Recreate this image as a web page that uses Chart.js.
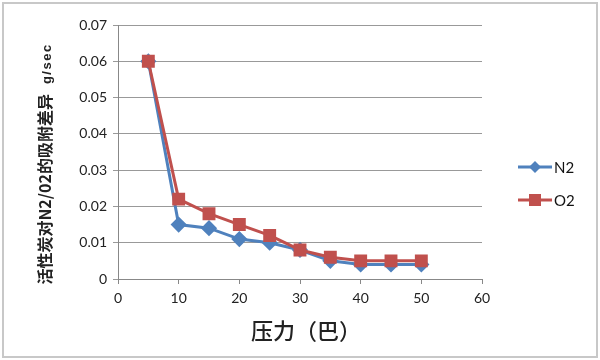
<!DOCTYPE html>
<html>
<head>
<meta charset="utf-8">
<script src="https://cdn.jsdelivr.net/npm/chart.js@4"></script>
<style>
  html, body { margin: 0; padding: 0; background: #fff; }
  #wrap { width: 600px; height: 360px; }
</style>
</head>
<body>
<div id="wrap"><canvas id="chart" width="600" height="360"></canvas></div>
<script>
const PRESSURE = [5, 10, 15, 20, 25, 30, 35, 40, 45, 50];
const N2_VALUES = [0.060, 0.015, 0.014, 0.011, 0.010, 0.008, 0.005, 0.004, 0.004, 0.004];
const O2_VALUES = [0.060, 0.022, 0.018, 0.015, 0.012, 0.008, 0.006, 0.005, 0.005, 0.005];
const SERIES_NAMES = ['N2', 'O2'];
const X_TITLE = '压力（巴）';
const Y_TITLE_MAIN = '活性炭对N2/02的吸附差异';
const Y_TITLE_UNIT = 'g/sec';

const BLUE = '#4F81BD';
const RED = '#C0504D';
const TICK_FONT = { family: 'Lato, "Open Sans", sans-serif', size: 14 };

const toPoints = vals => vals.map((v, i) => ({ x: PRESSURE[i], y: v }));

// frame, axis titles and legend with line + marker
const extras = {
    id: 'extras',
    beforeDraw(chart) {
        const ctx = chart.ctx;
        ctx.save();
        ctx.fillStyle = '#fff';
        ctx.fillRect(0, 0, chart.width, chart.height);
        ctx.strokeStyle = '#c8c8c8';
        ctx.lineWidth = 2;
        ctx.strokeRect(3, 3, chart.width - 6, chart.height - 6);
        ctx.restore();
    },
    afterDraw(chart) {
        const ctx = chart.ctx;
        const area = chart.chartArea;

        // x title
        ctx.save();
        ctx.fillStyle = '#222';
        ctx.font = '500 22px "Noto Sans CJK SC", sans-serif';
        ctx.textAlign = 'center';
        ctx.textBaseline = 'middle';
        ctx.fillText(X_TITLE, (area.left + area.right) / 2 + 6, 331);
        ctx.restore();

        // y title, rotated, main text + small unit on one baseline
        ctx.save();
        ctx.translate(45, 164);
        ctx.rotate(-Math.PI / 2);
        ctx.fillStyle = '#222';
        ctx.textBaseline = 'alphabetic';
        ctx.textAlign = 'left';
        const mainFont = 'bold 16px "Noto Sans CJK SC", sans-serif';
        const unitFont = 'bold 13px "Liberation Sans", sans-serif';
        ctx.font = mainFont;
        const w1 = ctx.measureText(Y_TITLE_MAIN).width;
        ctx.font = unitFont;
        ctx.letterSpacing = '1.5px';
        const w2 = ctx.measureText(Y_TITLE_UNIT).width;
        const gap = 10;
        const start = -(w1 + gap + w2) / 2;
        ctx.letterSpacing = '0px';
        ctx.font = mainFont;
        ctx.fillText(Y_TITLE_MAIN, start, 6);
        ctx.font = unitFont;
        ctx.letterSpacing = '1.5px';
        ctx.fillText(Y_TITLE_UNIT, start + w1 + gap, 6);
        ctx.restore();

        // legend
        ctx.save();
        [0, 1].forEach(i => {
            const ds = chart.data.datasets[i];
            const y = 167 + i * 33;
            const x0 = area.right + 36;
            const x1 = x0 + 34;
            ctx.strokeStyle = ds.borderColor;
            ctx.lineWidth = 3;
            ctx.beginPath();
            ctx.moveTo(x0, y);
            ctx.lineTo(x1, y);
            ctx.stroke();
            ctx.fillStyle = ds.backgroundColor;
            const cx = (x0 + x1) / 2;
            ctx.beginPath();
            if (ds.pointStyle === 'rect') {
                ctx.rect(cx - 6, y - 6, 12, 12);
            } else {
                ctx.moveTo(cx, y - 6);
                ctx.lineTo(cx + 6, y);
                ctx.lineTo(cx, y + 6);
                ctx.lineTo(cx - 6, y);
                ctx.closePath();
            }
            ctx.fill();
            ctx.fillStyle = '#111';
            ctx.font = '15px Lato, "Open Sans", sans-serif';
            ctx.textAlign = 'left';
            ctx.textBaseline = 'middle';
            ctx.fillText(ds.label, x1 + 2, y + 1);
        });
        ctx.restore();
    }
};

new Chart(document.getElementById('chart'), {
    type: 'line',
    data: {
        datasets: [
            {
                label: SERIES_NAMES[0],
                data: toPoints(N2_VALUES),
                borderColor: BLUE,
                backgroundColor: BLUE,
                borderWidth: 3,
                pointStyle: 'rectRot',
                pointRadius: 6,
                pointHoverRadius: 6,
                tension: 0,
                order: 1,
            },
            {
                label: SERIES_NAMES[1],
                data: toPoints(O2_VALUES),
                borderColor: RED,
                backgroundColor: RED,
                borderWidth: 3,
                pointStyle: 'rect',
                pointRadius: 7,
                pointHoverRadius: 7,
                tension: 0,
                order: 0,
            },
        ],
    },
    options: {
        responsive: false,
        animation: false,
        layout: { padding: { left: 0, top: 25, right: 118, bottom: 0 } },
        plugins: {
            legend: { display: false },
            tooltip: { enabled: false },
        },
        scales: {
            x: {
                type: 'linear',
                min: 0,
                max: 60,
                afterFit: s => { s.height = 81; },
                ticks: { stepSize: 10, color: '#222', font: TICK_FONT, padding: 6 },
                grid: { drawOnChartArea: false, drawTicks: true, tickLength: 5, color: '#888' },
                border: { color: '#888', width: 1 },
            },
            y: {
                min: 0,
                max: 0.07,
                afterFit: s => { s.width = 118; },
                ticks: {
                    stepSize: 0.01,
                    color: '#222',
                    font: TICK_FONT,
                    padding: 6,
                    callback: v => v === 0 ? '0' : v.toFixed(2),
                },
                grid: { color: '#999', tickLength: 5 },
                border: { color: '#888', width: 1 },
            },
        },
    },
    plugins: [extras],
});
</script>
</body>
</html>
